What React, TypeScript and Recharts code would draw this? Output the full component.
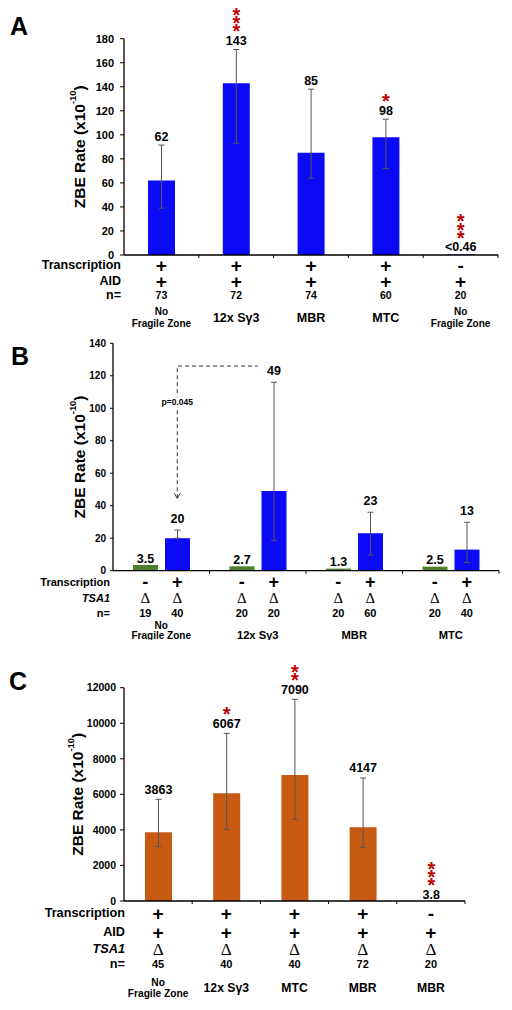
import React from "react";
import { BarChart, Bar, XAxis, YAxis, ErrorBar, LabelList, ReferenceLine } from "recharts";

const FONT = "'Liberation Sans', Arial, Helvetica, sans-serif";
const SERIF = "'Liberation Serif', 'Times New Roman', serif";
const STAR_RED = "#c00000";
const BLUE = "#0b0bf5";
const GREEN = "#4f7f2c";
const ORANGE = "#c65a12";

// ---------- Panel A ----------
const namesA = [["No", "Fragile Zone"], ["12x Sγ3"], ["MBR"], ["MTC"], ["No", "Fragile Zone"]];
const ratesA = [62, 143, 85, 98, 0.46];
const rateTextA = ["62", "143", "85", "98", "<0.46"];
const errLowA = [39, 93, 64, 72, null];
const errHighA = [91.5, 171, 138, 113, null];
const starsA = [0, 3, 0, 1, 3];
const transcriptionA = ["+", "+", "+", "+", "-"];
const aidA = ["+", "+", "+", "+", "+"];
const nA = ["73", "72", "74", "60", "20"];
const ticksA = [0, 20, 40, 60, 80, 100, 120, 140, 160, 180];

// ---------- Panel B ----------
const namesB = [["No", "Fragile Zone"], ["12x Sγ3"], ["MBR"], ["MTC"]];
const offRatesB = [3.5, 2.7, 1.3, 2.5];
const onRatesB = [20, 49, 23, 13];
const offTextB = ["3.5", "2.7", "1.3", "2.5"];
const onTextB = ["20", "49", "23", "13"];
const onErrLowB = [20, 18.5, 9.6, 5];
const onErrHighB = [25, 116, 36, 29.8];
const offNB = ["19", "20", "20", "20"];
const onNB = ["40", "20", "60", "40"];
const ticksB = [0, 20, 40, 60, 80, 100, 120, 140];
const pArrow = { from: 44.6, to: 126, text: "p=0.045", textAt: 104 };

// ---------- Panel C ----------
const namesC = [["No", "Fragile Zone"], ["12x Sγ3"], ["MTC"], ["MBR"], ["MBR"]];
const ratesC = [3863, 6067, 7090, 4147, 3.8];
const rateTextC = ["3863", "6067", "7090", "4147", "3.8"];
const errLowC = [3055, 4030, 4595, 3000, null];
const errHighC = [5720, 9430, 11345, 6920, null];
const starsC = [0, 1, 2, 0, 3];
const transcriptionC = ["+", "+", "+", "+", "-"];
const aidC = ["+", "+", "+", "+", "+"];
const tsaC = ["Δ", "Δ", "Δ", "Δ", "Δ"];
const nC = ["45", "40", "40", "72", "20"];
const ticksC = [0, 2000, 4000, 6000, 8000, 10000, 12000];

type Row = { label: string; values: string[]; kind: "sign" | "delta" | "n"; dy: number; italic?: boolean };

const YLabel = (props: any) => {
  const { viewBox, cx, fs } = props;
  const cy = viewBox.y + viewBox.height / 2;
  return (
    <text
      transform={`translate(${cx},${cy}) rotate(-90)`}
      textAnchor="middle"
      dominantBaseline="central"
      fontFamily={FONT}
      fontWeight="bold"
      fontSize={fs}
      fill="#000"
    >
      ZBE Rate (x10
      <tspan dy={-fs * 0.38} fontSize={fs * 0.6}>-10</tspan>
      <tspan dy={fs * 0.38}>)</tspan>
    </text>
  );
};

function rowText(kind: string, v: string, x: number, y: number, signFs: number, nFs: number, deltaFs: number, key: string) {
  if (kind === "delta") {
    return (
      <text key={key} x={x} y={y} textAnchor="middle" dominantBaseline="central" fontFamily={SERIF} fontSize={deltaFs} fill="#000">
        {v}
      </text>
    );
  }
  const fs = kind === "sign" ? signFs : nFs;
  return (
    <text key={key} x={x} y={y} textAnchor="middle" dominantBaseline="central" fontFamily={FONT} fontWeight="bold" fontSize={fs} fill="#000">
      {v}
    </text>
  );
}

function nameText(lines: string[], x: number, y: number, dyTwo: [number, number], dyOne: number, fsTwo: number, fsOne: number) {
  if (lines.length === 2) {
    return lines.map((l, k) => (
      <text key={k} x={x} y={y + dyTwo[k]} textAnchor="middle" dominantBaseline="central" fontFamily={FONT} fontWeight="bold" fontSize={fsTwo} fill="#000">
        {l}
      </text>
    ));
  }
  return (
    <text x={x} y={y + dyOne} textAnchor="middle" dominantBaseline="central" fontFamily={FONT} fontWeight="bold" fontSize={fsOne} fill="#000">
      {lines[0]}
    </text>
  );
}

// value label sitting above the error bar top, with red significance stars
const makeValueLabel = (
  values: number[],
  texts: string[],
  highs: (number | null)[],
  stars: number[],
  fs: number,
  gapErr: number,
  gapNone: number
) => (props: any) => {
  const vb = props.viewBox && props.viewBox.width != null ? props.viewBox : props;
  const { x, width } = vb;
  const y0 = Math.min(vb.y, vb.y + vb.height);
  const base = Math.max(vb.y, vb.y + vb.height);
  const h = base - y0;
  const i = props.index;
  const v = values[i];
  const hi = highs[i];
  const top = hi != null && v > 0 ? base - (h * hi) / v : y0;
  const cx = x + width / 2;
  const ly = top - (hi != null ? gapErr : gapNone);
  const starFs = 20;
  const count = stars[i] || 0;
  return (
    <g>
      <text x={cx} y={ly} textAnchor="middle" dominantBaseline="central" fontFamily={FONT} fontWeight="bold" fontSize={fs} fill="#000">
        {texts[i]}
      </text>
      {count > 0 && (
        <text textAnchor="middle" fontFamily={FONT} fontWeight="bold" fontSize={starFs} fill={STAR_RED}>
          {Array.from({ length: count }).map((_, k) => (
            <tspan key={k} x={cx} y={ly - 14 - k * 8.3 + starFs * 0.57}>
              *
            </tspan>
          ))}
        </text>
      )}
    </g>
  );
};

type SingleCfg = {
  top: number;
  height: number;
  margin: { top: number; right: number; left: number; bottom: number };
  yWidth: number;
  xHeight: number;
  ticks: number[];
  tickFs: number;
  tickMargin: number;
  yLabelX: number;
  yLabelFs: number;
  names: string[][];
  rates: number[];
  texts: string[];
  lows: (number | null)[];
  highs: (number | null)[];
  stars: number[];
  color: string;
  rows: Row[];
  rowLabelRight: number;
  rowLabelFs: number;
  signFs: number;
  nFs: number;
  deltaFs: number;
  nameDyTwo: [number, number];
  nameDyOne: number;
  nameFsTwo: number;
  nameFsOne: number;
  gapErr: number;
  gapNone: number;
};

function SinglePanel({ cfg }: { cfg: SingleCfg }) {
  const data = cfg.rates.map((r, i) => ({
    key: "c" + i,
    rate: r,
    err: cfg.lows[i] != null && cfg.highs[i] != null ? [r - (cfg.lows[i] as number), (cfg.highs[i] as number) - r] : null,
  }));
  const Tick = (props: any) => {
    const { x, y, payload } = props;
    const i = props.index ?? payload.index;
    const half = payload.offset ?? 0;
    return (
      <g>
        <line x1={x + half} x2={x + half} y1={y} y2={y + 3} stroke="#000" strokeWidth={1} />
        {cfg.rows.map((row, r) => rowText(row.kind, row.values[i], x, y + row.dy, cfg.signFs, cfg.nFs, cfg.deltaFs, "r" + r))}
        {i === 0 &&
          cfg.rows.map((row, r) => (
            <text
              key={"l" + r}
              x={cfg.rowLabelRight}
              y={y + row.dy}
              textAnchor="end"
              dominantBaseline="central"
              fontFamily={FONT}
              fontWeight="bold"
              fontStyle={row.italic ? "italic" : "normal"}
              fontSize={cfg.rowLabelFs}
              fill="#000"
            >
              {row.label}
            </text>
          ))}
        {nameText(cfg.names[i], x, y, cfg.nameDyTwo, cfg.nameDyOne, cfg.nameFsTwo, cfg.nameFsOne)}
      </g>
    );
  };
  return (
    <div style={{ position: "absolute", left: 0, top: cfg.top }}>
      <BarChart width={512} height={cfg.height} data={data} margin={cfg.margin} barSize={27}>
        <XAxis
          dataKey="key"
          axisLine={{ stroke: "#000", strokeWidth: 1.3 }}
          tickLine={false}
          tickSize={0}
          tickMargin={0}
          interval={0}
          height={cfg.xHeight}
          tick={<Tick />}
        />
        <YAxis
          width={cfg.yWidth}
          domain={[0, cfg.ticks[cfg.ticks.length - 1]]}
          ticks={cfg.ticks}
          interval={0}
          axisLine={{ stroke: "#000", strokeWidth: 1.3 }}
          tickLine={{ stroke: "#000" }}
          tickSize={4}
          tickMargin={cfg.tickMargin}
          tick={{ fontFamily: FONT, fontWeight: "bold", fontSize: cfg.tickFs, fill: "#000" }}
          label={<YLabel cx={cfg.yLabelX} fs={cfg.yLabelFs} />}
        />
        <Bar dataKey="rate" fill={cfg.color} isAnimationActive={false}>
          <ErrorBar dataKey="err" width={3} stroke="#555" strokeWidth={1} direction="y" />
          <LabelList
            dataKey="rate"
            content={makeValueLabel(cfg.rates, cfg.texts, cfg.highs, cfg.stars, 12.5, cfg.gapErr, cfg.gapNone)}
          />
        </Bar>
      </BarChart>
    </div>
  );
}

const cfgA: SingleCfg = {
  top: 0,
  height: 330,
  margin: { top: 38.7, right: 14, left: 0, bottom: 0 },
  yWidth: 124,
  xHeight: 75,
  ticks: ticksA,
  tickFs: 11,
  tickMargin: 6,
  yLabelX: 79,
  yLabelFs: 15.5,
  names: namesA,
  rates: ratesA,
  texts: rateTextA,
  lows: errLowA,
  highs: errHighA,
  stars: starsA,
  color: BLUE,
  rows: [
    { label: "Transcription", values: transcriptionA, kind: "sign", dy: 10 },
    { label: "AID", values: aidA, kind: "sign", dy: 26 },
    { label: "n=", values: nA, kind: "n", dy: 40 },
  ],
  rowLabelRight: 121,
  rowLabelFs: 12.5,
  signFs: 19,
  nFs: 10.5,
  deltaFs: 17,
  nameDyTwo: [56.7, 68.3],
  nameDyOne: 62.7,
  nameFsTwo: 10,
  nameFsOne: 12.5,
  gapErr: 8.5,
  gapNone: 7,
};

const cfgC: SingleCfg = {
  top: 640,
  height: 370,
  margin: { top: 47.7, right: 47, left: 0, bottom: 0 },
  yWidth: 124,
  xHeight: 109,
  ticks: ticksC,
  tickFs: 10.5,
  tickMargin: 4,
  yLabelX: 77,
  yLabelFs: 15.5,
  names: namesC,
  rates: ratesC,
  texts: rateTextC,
  lows: errLowC,
  highs: errHighC,
  stars: starsC,
  color: ORANGE,
  rows: [
    { label: "Transcription", values: transcriptionC, kind: "sign", dy: 12 },
    { label: "AID", values: aidC, kind: "sign", dy: 31 },
    { label: "TSA1", values: tsaC, kind: "delta", dy: 48, italic: true },
    { label: "n=", values: nC, kind: "n", dy: 63 },
  ],
  rowLabelRight: 125,
  rowLabelFs: 12.7,
  signFs: 19,
  nFs: 11,
  deltaFs: 17,
  nameDyTwo: [81, 92],
  nameDyOne: 86.7,
  nameFsTwo: 10.2,
  nameFsOne: 12.2,
  gapErr: 9.5,
  gapNone: 6,
};

// ---------- Panel B (grouped) ----------
function PanelB() {
  const data = namesB.map((n, i) => ({
    key: "g" + i,
    off: offRatesB[i],
    on: onRatesB[i],
    err: [onRatesB[i] - onErrLowB[i], onErrHighB[i] - onRatesB[i]],
  }));
  const shift = 16;
  const rowDy = { trans: 11.3, tsa: 27.3, n: 42.3 };
  const Tick = (props: any) => {
    const { x, y, payload } = props;
    const i = props.index ?? payload.index;
    const half = payload.offset ?? 0;
    const labelStyle = { fontFamily: FONT, fontWeight: "bold" as const, fontSize: 11, fill: "#000" };
    return (
      <g>
        <line x1={x + half} x2={x + half} y1={y} y2={y + 3} stroke="#000" strokeWidth={1} />
        {rowText("sign", "-", x - shift, y + rowDy.trans, 18, 11, 15, "s0")}
        {rowText("sign", "+", x + shift, y + rowDy.trans, 18, 11, 15, "s1")}
        {rowText("delta", "Δ", x - shift, y + rowDy.tsa, 18, 11, 15, "d0")}
        {rowText("delta", "Δ", x + shift, y + rowDy.tsa, 18, 11, 15, "d1")}
        {rowText("n", offNB[i], x - shift, y + rowDy.n, 18, 11, 15, "n0")}
        {rowText("n", onNB[i], x + shift, y + rowDy.n, 18, 11, 15, "n1")}
        {i === 0 && (
          <g>
            <text x={110} y={y + rowDy.trans} textAnchor="end" dominantBaseline="central" {...labelStyle}>Transcription</text>
            <text x={110} y={y + rowDy.tsa} textAnchor="end" dominantBaseline="central" fontStyle="italic" {...labelStyle}>TSA1</text>
            <text x={110} y={y + rowDy.n} textAnchor="end" dominantBaseline="central" {...labelStyle}>n=</text>
          </g>
        )}
        {nameText(namesB[i], x, y, [54.3, 64.3], 64.3, 10, 11.2)}
      </g>
    );
  };
  const PShape = (props: any) => {
    const { x1, y1, x2, y2 } = props;
    const vx = x1 + shift;
    const ty = y1 + ((y2 - y1) * (pArrow.textAt - pArrow.from)) / (pArrow.to - pArrow.from);
    return (
      <g>
        <path d={`M${vx},${y1} L${vx},${y2} L${x2},${y2}`} fill="none" stroke="#333" strokeWidth={1} strokeDasharray="4 3" />
        <path d={`M${vx - 3},${y1 - 5} L${vx},${y1} L${vx + 3},${y1 - 5}`} fill="none" stroke="#333" strokeWidth={1} />
        <rect x={vx - 17} y={ty - 5} width={34} height={10} fill="#fff" />
        <text x={vx} y={ty} textAnchor="middle" dominantBaseline="central" fontFamily={FONT} fontWeight="bold" fontSize={8.5} fill="#000">
          {pArrow.text}
        </text>
      </g>
    );
  };
  const none = onRatesB.map(() => null);
  return (
    <div style={{ position: "absolute", left: 0, top: 330 }}>
      <BarChart width={512} height={310} data={data} margin={{ top: 13.3, right: 13, left: 0, bottom: 0 }} barSize={25} barGap={7}>
        <XAxis
          dataKey="key"
          axisLine={{ stroke: "#000", strokeWidth: 1.3 }}
          tickLine={false}
          tickSize={0}
          tickMargin={0}
          interval={0}
          height={69.3}
          tick={<Tick />}
        />
        <YAxis
          width={113}
          domain={[0, 140]}
          ticks={ticksB}
          interval={0}
          axisLine={{ stroke: "#000", strokeWidth: 1.3 }}
          tickLine={{ stroke: "#000" }}
          tickSize={3}
          tickMargin={4}
          tick={{ fontFamily: FONT, fontWeight: "bold", fontSize: 10, fill: "#000" }}
          label={<YLabel cx={79} fs={15.5} />}
        />
        <Bar dataKey="off" fill={GREEN} isAnimationActive={false}>
          <LabelList dataKey="off" content={makeValueLabel(offRatesB, offTextB, none, [0, 0, 0, 0], 12.5, 11.5, 6.5)} />
        </Bar>
        <Bar dataKey="on" fill={BLUE} isAnimationActive={false}>
          <ErrorBar dataKey="err" width={3} stroke="#555" strokeWidth={1} direction="y" />
          <LabelList dataKey="on" content={makeValueLabel(onRatesB, onTextB, onErrHighB, [0, 0, 0, 0], 12.5, 11.5, 6.5)} />
        </Bar>
        <ReferenceLine
          segment={[
            { x: "g0", y: pArrow.from },
            { x: "g1", y: pArrow.to },
          ]}
          shape={<PShape />}
          ifOverflow="visible"
        />
      </BarChart>
    </div>
  );
}

const letterStyle = (left: number, top: number): React.CSSProperties => ({
  position: "absolute",
  left,
  top,
  fontFamily: FONT,
  fontWeight: "bold",
  fontSize: 25,
  lineHeight: "25px",
  color: "#000",
});

export default function App() {
  return (
    <div style={{ position: "absolute", left: 0, top: 0, width: 512, height: 1010, background: "#fff" }}>
      <SinglePanel cfg={cfgA} />
      <PanelB />
      <SinglePanel cfg={cfgC} />
      <div style={letterStyle(10, 14)}>A</div>
      <div style={letterStyle(11, 344)}>B</div>
      <div style={letterStyle(9, 669)}>C</div>
    </div>
  );
}
